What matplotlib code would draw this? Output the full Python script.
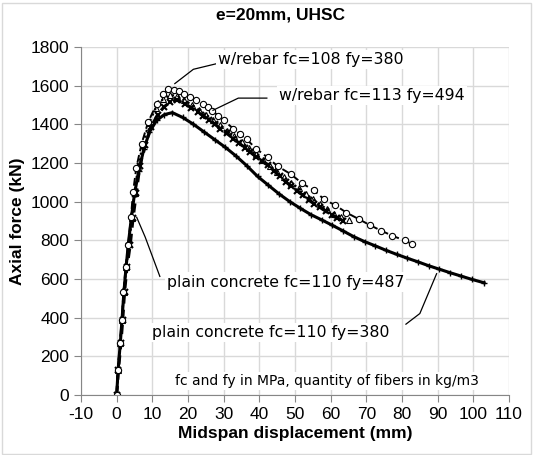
import matplotlib
matplotlib.use("Agg")
import matplotlib.pyplot as plt
from matplotlib.patches import Rectangle

plt.rcParams['axes.unicode_minus'] = False

# plain concrete fc=110 fy=380
x_p380 = [0, 0.4, 1.0, 1.5, 2.0, 2.6, 3.3, 4.1, 5.0, 6.2, 7.6, 9.2, 11.2, 13.4, 15.6,
          18.5, 21.5, 24.5, 27.5, 30.5, 33.5, 36.5, 39.5, 42.5, 45.5, 48.5, 51.5, 54.5,
          57.5, 60.5, 63.5, 66.5, 69.5, 72.5, 75.5, 78.5, 81.5, 84.5, 87.5, 90.5, 93.5,
          96.5, 99.5, 103]
y_p380 = [0, 130, 265, 390, 525, 655, 785, 915, 1040, 1160, 1270, 1360, 1420, 1450, 1460,
          1435, 1400, 1360, 1320, 1280, 1235, 1185, 1130, 1085, 1040, 1000, 965, 932,
          905, 877, 848, 818, 793, 771, 748, 727, 707, 688, 668, 650, 632,
          615, 598, 580]

# plain concrete fc=110 fy=487
x_p487 = [0, 0.5, 1.2, 1.7, 2.2, 2.9, 3.8, 4.6, 5.5, 6.5, 8.0, 9.6, 11.5, 13.3, 15.0, 16.8,
          19.1, 20.9, 22.7, 24.3, 25.9, 27.5, 29.1, 30.9, 32.7, 34.3, 35.9, 37.5, 39.1,
          40.7, 42.3, 44.1, 45.8, 47.4, 49.0, 50.6, 52.2, 53.8, 55.4, 57.0, 58.6, 60.3,
          61.9, 63.5]
y_p487 = [0, 130, 268, 390, 530, 660, 777, 915, 1043, 1185, 1290, 1385, 1450, 1490, 1514, 1526,
          1506, 1485, 1463, 1443, 1423, 1400, 1377, 1352, 1326, 1303, 1279, 1255, 1231,
          1210, 1188, 1159, 1130, 1102, 1079, 1056, 1032, 1008, 989, 970, 950, 931,
          914, 897]

# w/rebar fc=108 fy=380
x_r380 = [0, 0.3, 0.9, 1.4, 1.9, 2.5, 3.2, 4.0, 4.6, 5.5, 7.0, 8.8, 11.2, 13.0, 14.5, 16.0,
          17.5, 19.0, 20.5, 22.3, 24.1, 25.5, 26.8, 28.4, 30.0, 32.7, 34.5, 36.4, 39.1,
          42.3, 45.1, 48.8, 52.0, 55.2, 58.2, 61.2, 64.4, 67.9, 70.9, 74.1, 77.3, 80.7, 82.7]
y_r380 = [0, 130, 268, 390, 530, 660, 775, 920, 1050, 1175, 1300, 1410, 1505, 1555, 1580, 1578,
          1570, 1555, 1543, 1525, 1505, 1488, 1470, 1445, 1420, 1377, 1350, 1322, 1274,
          1228, 1183, 1142, 1094, 1059, 1011, 982, 943, 909, 879, 850, 823, 799, 782]

# w/rebar fc=113 fy=494
x_r494 = [0, 0.4, 1.0, 1.5, 2.0, 2.7, 3.5, 4.3, 5.0, 6.0, 7.4, 9.0, 11.0, 13.0, 15.0, 17.0,
          19.0, 21.0, 23.0, 25.0, 27.0, 29.0, 31.0, 33.0, 35.0, 37.0, 39.0, 41.0, 43.0,
          45.0, 47.0, 49.0, 51.0, 53.0, 55.0, 57.0, 59.0, 61.0, 63.0, 65.0]
y_r494 = [0, 130, 268, 390, 530, 660, 780, 915, 1045, 1180, 1300, 1405, 1485, 1530, 1550, 1548,
          1525, 1500, 1475, 1450, 1423, 1395, 1367, 1338, 1308, 1277, 1246, 1215, 1185,
          1155, 1125, 1097, 1068, 1040, 1012, 985, 960, 937, 918, 903]

x_ticks = list(range(-10, 111, 10))
y_ticks = list(range(0, 1801, 200))

fig = plt.figure(figsize=(5.33, 4.55), dpi=100)
ax = fig.add_axes([0.152, 0.132, 0.803, 0.765])

ax.plot(x_p380, y_p380, color='black', lw=2.2, ls='-', marker='+', ms=5, mew=1.0)
ax.plot(x_p487, y_p487, color='black', lw=2.2, ls=(0, (3, 2)), marker='x', ms=4.5, mew=1.5)
ax.plot(x_r494, y_r494, color='black', lw=1.6, ls=':', marker='^', ms=4.5, mew=0.8,
        fillstyle='none')
ax.plot(x_r380, y_r380, color='black', lw=1.4, ls=(0, (4, 2)), marker='o', ms=4.5, mew=0.8,
        mfc='white')

ax.set_xlim(-10, 110)
ax.set_ylim(0, 1800)
ax.set_xticks(x_ticks)
ax.set_yticks(y_ticks)
ax.grid(True, color='#d9d9d9', lw=1.0)
ax.set_axisbelow(True)
for s in ['top', 'right']:
    ax.spines[s].set_visible(False)
for s in ['left', 'bottom']:
    ax.spines[s].set_color('#868686')
ax.tick_params(axis='both', colors='#868686', labelcolor='black', labelsize=12.5,
               length=5, direction='out')
for lbl in ax.get_xticklabels() + ax.get_yticklabels():
    lbl.set_fontfamily('Liberation Sans')

ax.set_xlabel('Midspan displacement (mm)', fontsize=12.5, fontweight='bold',
              family='Liberation Sans', labelpad=3)
ax.set_ylabel('Axial force (kN)', fontsize=12.5, fontweight='bold',
              family='Liberation Sans', labelpad=4)
fig.text(0.527, 0.967, 'e=20mm, UHSC', ha='center', va='center', fontsize=12.5,
         fontweight='bold', family='Liberation Sans')

box = dict(facecolor='white', edgecolor='none', pad=1.5)
afs = 11.3
ax.text(28.5, 1737, 'w/rebar fc=108 fy=380', fontsize=afs, va='center', bbox=box)
ax.plot([28.0, 21.5, 16.3], [1713, 1684, 1610], color='black', lw=0.9)
ax.text(45.6, 1550, 'w/rebar fc=113 fy=494', fontsize=afs, va='center', bbox=box)
ax.plot([42.1, 34.1, 27.0], [1535, 1535, 1472], color='black', lw=0.9)
ax.text(14.0, 584, 'plain concrete fc=110 fy=487', fontsize=afs, va='center', bbox=box)
ax.plot([12.1, 8.0, 5.6], [613, 816, 919], color='black', lw=0.9)
ax.text(9.8, 321, 'plain concrete fc=110 fy=380', fontsize=afs, va='center', bbox=box)
ax.plot([81.1, 85.0, 89.7], [366, 421, 627], color='black', lw=0.9)
ax.text(101.5, 72, 'fc and fy in MPa, quantity of fibers in kg/m3', fontsize=10,
        ha='right', va='center', bbox=box)

fig.patches.append(Rectangle((0.003, 0.003), 0.994, 0.991, transform=fig.transFigure,
                             fill=False, edgecolor='#d9d9d9', lw=1.0))

fig.savefig('out.png', dpi=100)
